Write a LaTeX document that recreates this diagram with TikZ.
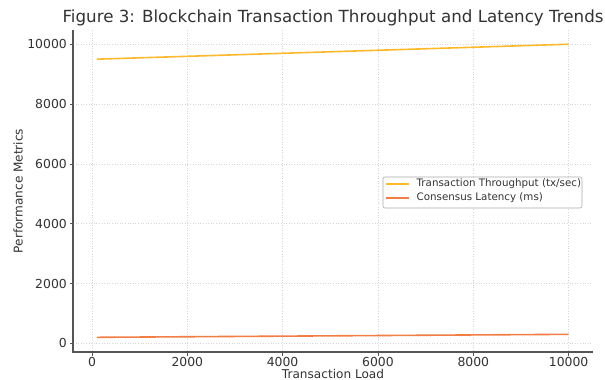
\documentclass[tikz,border=0pt]{standalone}
\usepackage{fontspec}
\setmainfont{DejaVu Sans}
\definecolor{thr}{HTML}{FDB92E}
\definecolor{lat}{HTML}{F27D45}
\definecolor{txt}{HTML}{333333}
\definecolor{spine}{HTML}{555555}
\definecolor{gridc}{HTML}{D5D5D5}
\begin{document}
\begin{tikzpicture}[x=1pt,y=-1pt,
  ticklab/.style={text=txt,font=\fontsize{12.4}{14}\selectfont,inner sep=0pt},
  axlab/.style={text=txt,font=\fontsize{12.1}{14}\selectfont,inner sep=0pt},
  gridline/.style={draw=gridc,line width=0.6pt,dotted},
  spineline/.style={draw=spine,line width=1.1pt},
  tickmark/.style={draw=spine,line width=0.8pt},
  series/.style={line width=1.6pt}]
\useasboundingbox (0,0) rectangle (605,380);
\fill[white] (0,0) rectangle (605,380);
% title
\node[text=txt,font=\fontsize{16.7}{19}\selectfont,inner sep=0pt] (title) at (333,18) {Figure 3: Blockchain Transaction Throughput and Latency Trends};
% axes corners
\coordinate (tl) at (73,30);
\coordinate (bl) at (73,352);
\coordinate (br) at (593,352);
% grid, ticks, labels
\foreach \v/\px in {0/92,2000/187.3,4000/282.6,6000/378,8000/473.3,10000/568.6}{
  \draw[gridline] (\px,30) -- (\px,352);
  \draw[tickmark] (\px,352) -- (\px,355.5);
  \node[ticklab,anchor=north] (xt\v) at (\px,357) {\v};
}
\foreach \v/\py in {0/343.3,2000/283.5,4000/223.7,6000/163.9,8000/104.1,10000/44.3}{
  \draw[gridline] (73,\py) -- (593,\py);
  \draw[tickmark] (73,\py) -- (69.5,\py);
  \node[ticklab,anchor=east] (yt\v) at (67,\py) {\v};
}
% spines
\draw[spineline] (tl) -- (bl) -- (br);
% axis labels
\node[axlab] (xlab) at (333,374) {Transaction Load};
\node[axlab,rotate=90] (ylab) at (18,191) {Performance Metrics};
% data
\begin{scope}[shift={(92,343.3)},x=0.04766pt,y=0.0299pt]
  \coordinate (t0) at (100,9500);
  \coordinate (t1) at (10000,10000);
  \coordinate (l0) at (100,200);
  \coordinate (l1) at (10000,300);
  \draw[series,thr] (t0) -- (t1);
  \draw[series,lat] (l0) -- (l1);
\end{scope}
% legend
\draw[draw=gridc!80!black,line width=0.6pt,fill=white,fill opacity=0.85,rounded corners=2pt] (383,177) rectangle (582,208);
\coordinate (la1) at (386,184);
\coordinate (lb1) at (409,184);
\coordinate (la2) at (386,198);
\coordinate (lb2) at (409,198);
\draw[series,thr] (la1) -- (lb1);
\draw[series,lat] (la2) -- (lb2);
\node[text=txt,font=\fontsize{10.3}{12}\selectfont,inner sep=0pt,anchor=west] (leg1) at (416.5,184) {Transaction Throughput (tx/sec)};
\node[text=txt,font=\fontsize{10.3}{12}\selectfont,inner sep=0pt,anchor=west] (leg2) at (416.5,198) {Consensus Latency (ms)};
\end{tikzpicture}
\end{document}
